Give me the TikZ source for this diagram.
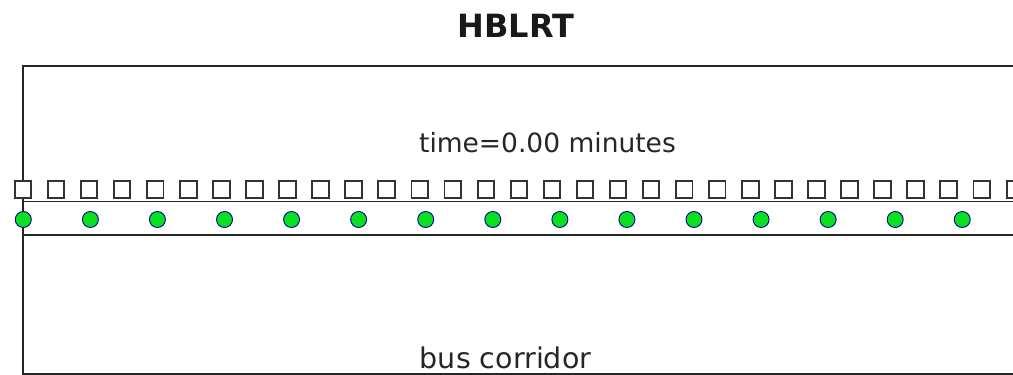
\documentclass[tikz,border=0pt]{standalone}
\usepackage{fontspec}
\setmainfont{DejaVu Sans}
\definecolor{busgreen}{RGB}{10,225,30}
\begin{document}
\begin{tikzpicture}[x=1pt,y=-1pt,
  stop/.style={draw=black!80,line width=1.9pt,fill=white,minimum size=16.5pt,inner sep=0pt,rectangle},
  bus/.style={circle,draw=blue!60!black,fill=busgreen,line width=0.9pt,minimum size=16pt,inner sep=0pt},
  frameline/.style={draw=black!85,line width=1.4pt},
  lbl/.style={inner sep=0pt,text=black!85}]
\useasboundingbox (0,0) rectangle (1013,375);
\begin{scope}
\clip (0,0) rectangle (1013,375);
\draw[frameline] (23,66) rectangle (1030,374);
\draw[frameline] (23,201.5) -- (1030,201.5);
\draw[frameline] (23,235) -- (1030,235);
\foreach \i in {0,...,30} {
  \node[stop] (s\i) at ({23+33.06*\i},189.5) {};
}
\foreach \i in {0,...,14} {
  \node[bus] (b\i) at ({23.3+67.07*\i},219.5) {};
}
\end{scope}
\node[inner sep=0pt,text=black!90,font=\bfseries\fontsize{32}{34}\selectfont] (title) at (516,26) {HBLRT};
\node[lbl,font=\fontsize{26.5}{28}\selectfont] (time) at (547.5,143) {time=0.00 minutes};
\node[lbl,anchor=base,font=\fontsize{28.5}{30}\selectfont] (corr) at (505.5,368) {bus corridor};
\end{tikzpicture}
\end{document}
